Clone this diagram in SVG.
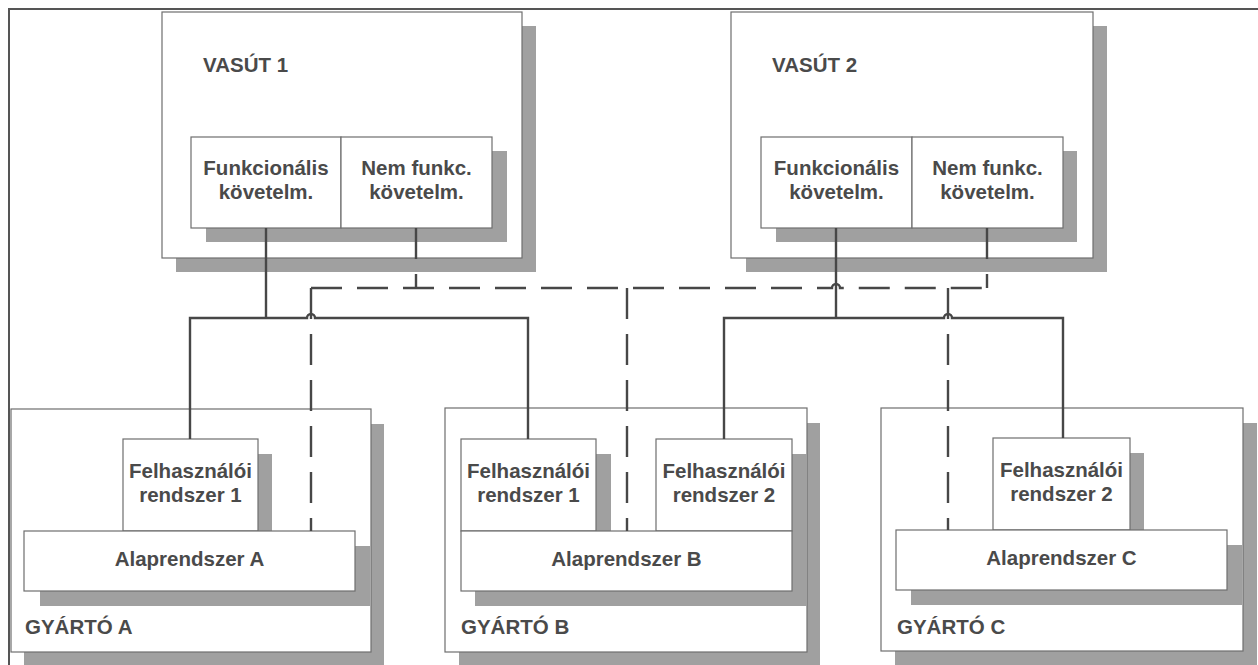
<svg xmlns="http://www.w3.org/2000/svg" width="1258" height="665" viewBox="0 0 1258 665">
<style>
.box{fill:#fff;stroke:#6e6e6e;stroke-width:1.2}
.sh{fill:#a0a0a0}
.t{font-family:"Liberation Sans",Arial,sans-serif;font-weight:bold;font-size:20.5px;fill:#4a4a4a}
.c{text-anchor:middle}
.ln{fill:none;stroke:#474747;stroke-width:2.4}
.dl{fill:none;stroke:#474747;stroke-width:2.4;stroke-dasharray:31 15}
</style>
<rect width="1258" height="665" fill="#fff"/>
<path d="M9 665 V9 H1258" fill="none" stroke="#555" stroke-width="2"/>

<g id="vasut1">
<rect class="sh" x="176" y="26" width="360" height="246"/>
<rect class="box" x="162" y="12" width="360" height="246"/>
<text class="t" x="203" y="72">VASÚT 1</text>
</g>
<g id="v1-req">
<rect class="sh" x="206" y="151" width="301" height="91"/>
<rect class="box" x="191" y="137" width="150" height="91"/>
<rect class="box" x="341" y="137" width="151" height="91"/>
<text class="t c" x="266" y="175">Funkcionális</text>
<text class="t c" x="266" y="199">követelm.</text>
<text class="t c" x="416.5" y="175">Nem funkc.</text>
<text class="t c" x="416.5" y="199">követelm.</text>
</g>

<g id="vasut2">
<rect class="sh" x="746" y="26" width="361" height="246"/>
<rect class="box" x="731" y="12" width="362" height="246"/>
<text class="t" x="772" y="72">VASÚT 2</text>
</g>
<g id="v2-req">
<rect class="sh" x="776" y="151" width="301" height="91"/>
<rect class="box" x="761" y="137" width="151" height="91"/>
<rect class="box" x="912" y="137" width="151" height="91"/>
<text class="t c" x="836.5" y="175">Funkcionális</text>
<text class="t c" x="836.5" y="199">követelm.</text>
<text class="t c" x="987.5" y="175">Nem funkc.</text>
<text class="t c" x="987.5" y="199">követelm.</text>
</g>

<g id="gyarto-a">
<rect class="sh" x="24" y="424" width="360" height="250"/>
<rect class="box" x="11" y="409" width="360" height="243"/>
<text class="t" x="25" y="634">GYÁRTÓ A</text>
</g>
<g id="felh1-a">
<rect class="sh" x="138" y="454" width="134" height="94"/>
<rect class="box" x="123" y="439" width="135" height="92"/>
<text class="t c" x="190.5" y="478">Felhasználói</text>
<text class="t c" x="190.5" y="502">rendszer 1</text>
</g>
<g id="alap-a">
<rect class="sh" x="40" y="546" width="330" height="60"/>
<rect class="box" x="24" y="531" width="331" height="60"/>
<text class="t c" x="189.5" y="566">Alaprendszer A</text>
</g>

<g id="gyarto-b">
<rect class="sh" x="459" y="423" width="361" height="250"/>
<rect class="box" x="445" y="408" width="362" height="244"/>
<text class="t" x="461" y="634">GYÁRTÓ B</text>
</g>
<g id="felh1-b">
<rect class="sh" x="476" y="454" width="135" height="94"/>
<rect class="box" x="461" y="439" width="135" height="92"/>
<text class="t c" x="528.5" y="478">Felhasználói</text>
<text class="t c" x="528.5" y="502">rendszer 1</text>
</g>
<g id="felh2-b">
<rect class="sh" x="671" y="454" width="136" height="94"/>
<rect class="box" x="656" y="439" width="136" height="92"/>
<text class="t c" x="724" y="478">Felhasználói</text>
<text class="t c" x="724" y="502">rendszer 2</text>
</g>
<g id="alap-b">
<rect class="sh" x="475" y="546" width="332" height="60"/>
<rect class="box" x="461" y="531" width="331" height="60"/>
<text class="t c" x="626.5" y="566">Alaprendszer B</text>
</g>

<g id="gyarto-c">
<rect class="sh" x="895" y="423" width="362" height="250"/>
<rect class="box" x="881" y="408" width="362" height="243"/>
<text class="t" x="897" y="634">GYÁRTÓ C</text>
</g>
<g id="felh2-c">
<rect class="sh" x="1008" y="453" width="136" height="94"/>
<rect class="box" x="993" y="438" width="137" height="92"/>
<text class="t c" x="1061.5" y="477">Felhasználói</text>
<text class="t c" x="1061.5" y="501">rendszer 2</text>
</g>
<g id="alap-c">
<rect class="sh" x="911" y="545" width="331" height="60"/>
<rect class="box" x="896" y="530" width="331" height="60"/>
<text class="t c" x="1061.5" y="565">Alaprendszer C</text>
</g>

<g id="connectors">
<path class="ln" d="M266 228 V318"/>
<path class="ln" d="M190 439 V318 H307 a4 4 0 0 1 8 0 H528 V439"/>
<path class="ln" d="M836 228 V318"/>
<path class="ln" d="M724 439 V318 H944 a4 4 0 0 1 8 0 H1063 V438"/>
<path class="dl" d="M416 228 V288"/>
<path class="dl" d="M987 228 V288"/>
<path class="dl" d="M311 288 H832 a4 4 0 0 1 8 0 H987"/>
<path class="dl" d="M311 288 V531"/>
<path class="dl" d="M627 288 V531"/>
<path class="dl" d="M948 288 V530"/>
</g>
</svg>
